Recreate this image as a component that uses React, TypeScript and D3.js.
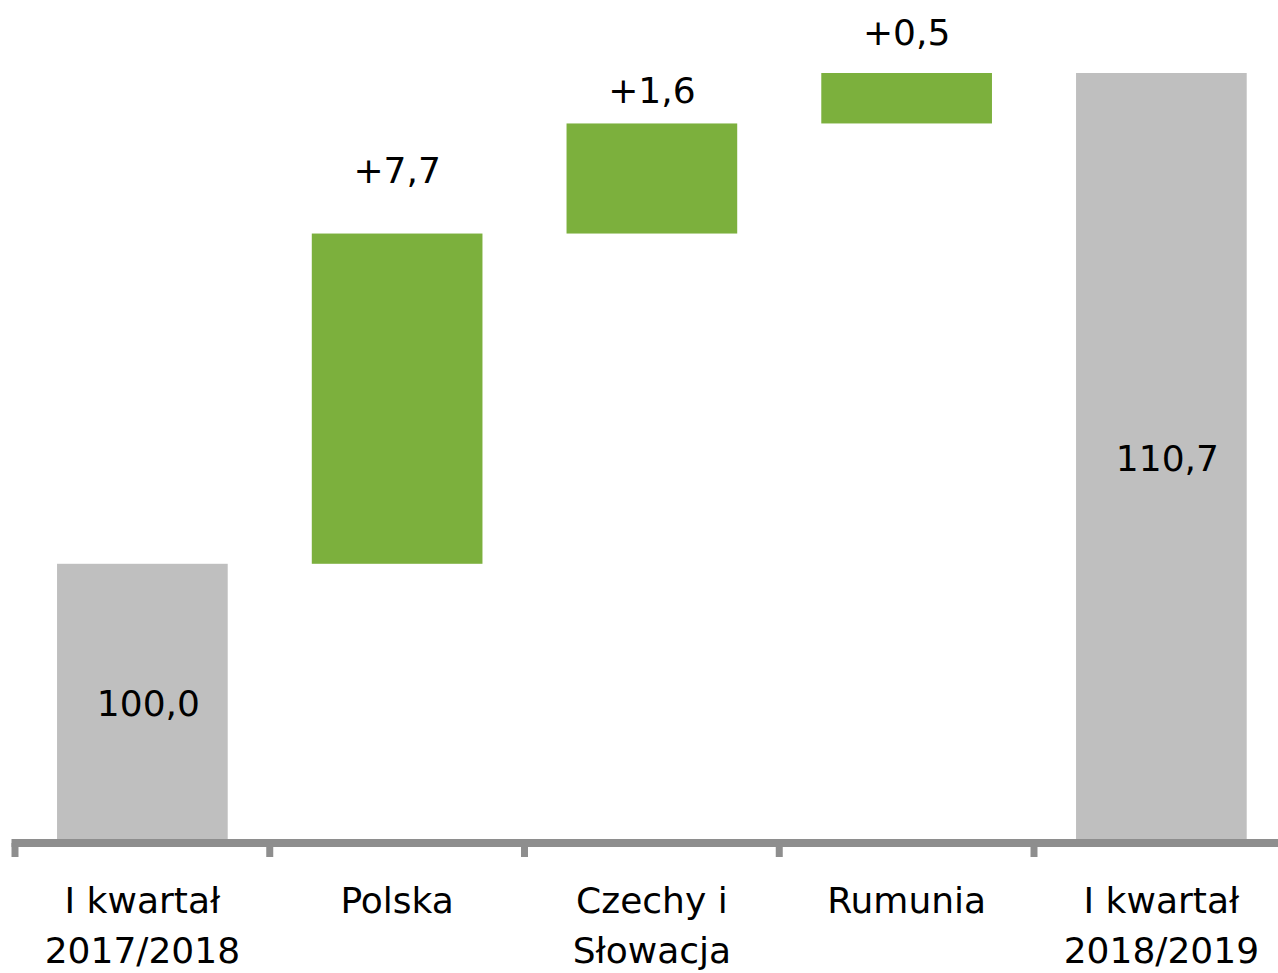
import React, { useEffect, useRef } from "react";
import * as d3 from "d3";

// categories (each entry = lines of the axis label)
const categories: string[][] = [
  ["I kwartał", "2017/2018"],
  ["Polska"],
  ["Czechy i", "Słowacja"],
  ["Rumunia"],
  ["I kwartał", "2018/2019"],
];
// "total" bars stand on the axis, "delta" bars float on the running level
const kinds = ["total", "delta", "delta", "delta", "total"];
// bar sizes
const barValues = [100.0, 7.2, 2.4, 1.1, 110.7];
// printed labels
const valueLabels = ["100,0", "+7,7", "+1,6", "+0,5", "110,7"];

const W = 1278;
const H = 973;
const FONT = "'DejaVu Sans', Verdana, sans-serif";

export default function App() {
  const ref = useRef<SVGSVGElement>(null);

  useEffect(() => {
    const svg = d3.select(ref.current);
    svg.selectAll("*").remove();

    const axisY = 843;
    const x = d3
      .scaleBand<number>()
      .domain(d3.range(categories.length))
      .range([15, 15 + 254.75 * categories.length])
      .paddingInner(0.33)
      .paddingOuter(0.165);

    const y = d3.scaleLinear().domain([94, 110.7]).range([839, 73]);

    // running levels for the waterfall
    let level = 0;
    const bars = barValues.map((v, i) => {
      let lo: number, hi: number;
      if (kinds[i] === "total") {
        lo = 94;
        hi = v;
        level = v;
      } else {
        lo = level;
        hi = level + v;
        level = hi;
      }
      return { i, lo, hi, kind: kinds[i], label: valueLabels[i] };
    });

    svg
      .append("g")
      .selectAll("rect")
      .data(bars)
      .join("rect")
      .attr("x", (d) => x(d.i)!)
      .attr("width", x.bandwidth())
      .attr("y", (d) => y(d.hi))
      .attr("height", (d) => y(d.lo) - y(d.hi))
      .attr("fill", (d) => (d.kind === "total" ? "#BFBFBF" : "#7CB03D"));

    // axis line + ticks at band boundaries
    const step = x.step();
    const g = svg.append("g").attr("stroke", "#8E8E8E");
    g.append("line")
      .attr("x1", 11.5)
      .attr("x2", W)
      .attr("y1", axisY)
      .attr("y2", axisY)
      .attr("stroke-width", 8);
    g.selectAll("line.tick")
      .data(d3.range(categories.length + 1))
      .join("line")
      .attr("class", "tick")
      .attr("x1", (d) => 15 + d * step)
      .attr("x2", (d) => 15 + d * step)
      .attr("y1", axisY)
      .attr("y2", 857)
      .attr("stroke-width", 7);

    // category labels
    const cat = svg
      .append("g")
      .attr("font-family", FONT)
      .attr("font-size", 36)
      .attr("text-anchor", "middle")
      .attr("fill", "#000");
    categories.forEach((lines, i) => {
      const t = cat.append("text").attr("x", x(i)! + x.bandwidth() / 2);
      lines.forEach((l, k) => {
        t.append("tspan")
          .attr("x", x(i)! + x.bandwidth() / 2)
          .attr("y", 913 + k * 50)
          .text(l);
      });
    });

    // value labels
    const deltaLift = [0, 51, 20, 28, 0];
    svg
      .append("g")
      .attr("font-family", FONT)
      .attr("font-size", 36)
      .attr("text-anchor", "middle")
      .attr("fill", "#000")
      .selectAll("text")
      .data(bars)
      .join("text")
      .attr("x", (d) => x(d.i)! + x.bandwidth() / 2 + (d.kind === "total" ? 6 : 0))
      .attr("y", (d) =>
        d.kind === "total"
          ? (y(d.lo) + y(d.hi)) / 2 + 15
          : y(d.hi) - deltaLift[d.i]
      )
      .text((d) => d.label);
  }, []);

  return (
    <svg
      ref={ref}
      width={W}
      height={H}
      style={{ position: "absolute", left: 0, top: 0, background: "#fff" }}
    />
  );
}
